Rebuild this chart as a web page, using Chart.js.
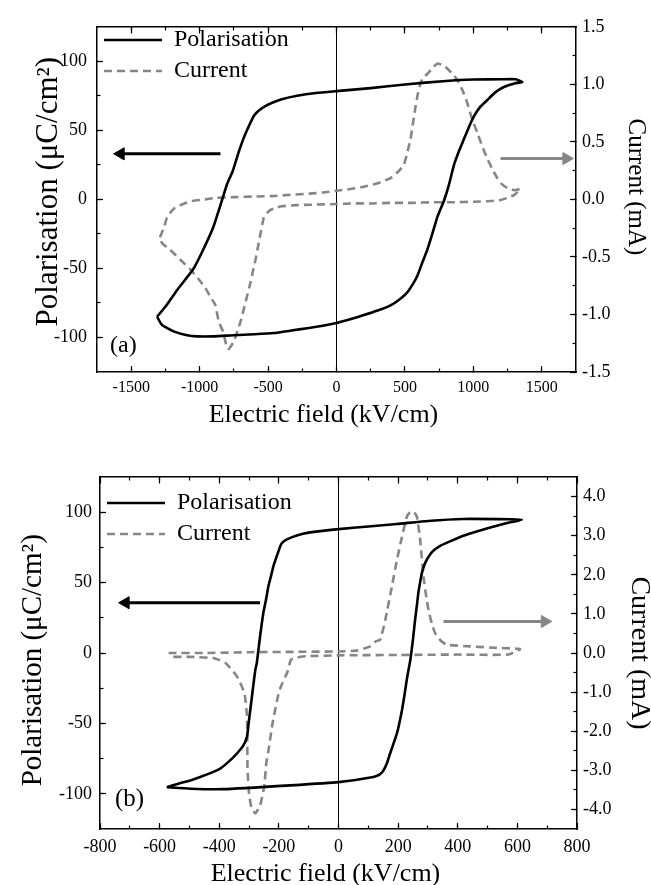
<!DOCTYPE html>
<html>
<head>
<meta charset="utf-8">
<script src="https://cdn.jsdelivr.net/npm/chart.js@4.4.1/dist/chart.umd.min.js"></script>
<style>
  html, body { margin: 0; padding: 0; background: #fff; overflow: hidden; }
  canvas { position: absolute; left: 0; }
</style>
</head>
<body>
<canvas id="chartA" width="651" height="440" style="top:0"></canvas>
<canvas id="chartB" width="651" height="460" style="top:440px"></canvas>
<script>
// ---- panel (a) : E in kV/cm, P in uC/cm2, I in mA ----
var polA_E = [-1311, -1275, -1190, -1092, -1019, -900, -751, -600, -458, -330,
              -214, -100, 0, 100, 200, 300, 395, 460, 517, 560,
              590, 630, 663, 700, 736, 785, 820, 858, 895, 931,
              970, 1004, 1050, 1102, 1160, 1223, 1300, 1358,
              1309, 1200, 1000, 800, 500, 250, 0, -150, -288, -400,
              -470, -520, -565, -600, -617, -650, -680, -722, -760, -800,
              -835, -900, -975, -1050, -1160, -1245, -1311];
var polA_P = [-85, -91, -95.6, -98.4, -99.2, -99.2, -98.4, -97.7, -96.8, -95,
              -93.3, -91.5, -89.5, -86.8, -83.8, -80.5, -76.7, -72.5, -67.3, -61,
              -55.5, -45, -36.6, -25, -13, -1, 10, 24.8, 35, 43.7,
              53, 60.2, 67, 72, 77.5, 81.4, 84, 85,
              87, 87, 86.8, 85.8, 83.2, 80.6, 78.4, 77, 75, 72.5,
              70, 67.5, 64.5, 61, 58, 51, 44, 32, 20, 11,
              0, -20, -36.6, -51, -65, -77, -85];
var curA_E = [-1290, -1260, -1239, -1210, -1179, -1120, -1057, -960, -874, -750,
              -600, -450, -336, -200, -100, 0, 100, 200, 300, 395,
              450, 492, 520, 541, 560, 578, 595, 614, 635, 663,
              700, 736, 770, 797, 840, 882, 920, 955, 990, 1029,
              1065, 1102, 1140, 1175, 1210, 1248, 1300, 1345, 1300, 1250,
              1200, 1126, 1000, 850, 700, 550, 400, 250, 100, 0,
              -150, -300, -400, -434, -480, -510, -531, -556, -575, -592,
              -610, -629, -665, -702, -751, -787, -805, -828, -860, -885,
              -920, -958, -1010, -1067, -1141, -1214, -1275, -1290];
var curA_I = [-0.33, -0.24, -0.16, -0.11, -0.07, -0.04, -0.014, 0.0, 0.014, 0.02,
              0.025, 0.03, 0.04, 0.05, 0.06, 0.075, 0.09, 0.11, 0.14, 0.185,
              0.24, 0.3, 0.42, 0.525, 0.67, 0.81, 0.92, 1.01, 1.06, 1.09,
              1.14, 1.18, 1.17, 1.15, 1.1, 1.04, 0.95, 0.84, 0.7, 0.58,
              0.46, 0.355, 0.26, 0.185, 0.13, 0.1, 0.08, 0.09, 0.04, 0.014,
              -0.005, -0.014, -0.02, -0.025, -0.025, -0.03, -0.03, -0.035, -0.035, -0.04,
              -0.045, -0.05, -0.06, -0.07, -0.09, -0.12, -0.156, -0.3, -0.42, -0.525,
              -0.62, -0.724, -0.894, -1.065, -1.235, -1.3, -1.27, -1.15, -1.065, -0.92,
              -0.85, -0.77, -0.69, -0.61, -0.525, -0.44, -0.38, -0.33];
var arrowA_polE = [-848, -1577], arrowA_polP = [33, 33];
var arrowA_curE = [1199, 1680], arrowA_curI = [0.355, 0.355];
var xTicksA = [-1500, -1000, -500, 0, 500, 1000, 1500];
var yTicksA = [-100, -50, 0, 50, 100];
var y1TicksA = [-1.5, -1.0, -0.5, 0, 0.5, 1.0, 1.5];

// ---- panel (b) ----
var polB_E = [-576, -497, -386, -162, 0, 117, 140, 151, 163, 173,
              185, 196, 205, 213, 222, 229, 241, 250, 257, 263,
              268, 274, 280, 288, 297, 315, 341, 380, 419, 475,
              531, 580, 615,
              580, 419, 300, 196, 100, 0, -100, -140, -173, -190,
              -196, -205, -218, -226, -235, -243, -252, -263, -274, -279,
              -288, -296, -302, -307, -320, -341, -370, -397, -430, -464,
              -497, -540, -576];
var polB_P = [-95.3, -96.4, -96.7, -94, -91.7, -88.1, -86, -83.4, -78, -71.4,
              -64, -57.1, -49, -40.5, -29, -19, -4.8, 10, 23.8, 34,
              42.9, 50.5, 57.1, 62.5, 66.6, 72, 76.1, 79.8, 83.3, 87,
              90.4, 93, 94.7,
              95, 95.2, 93.8, 91.6, 89.9, 88, 85.5, 83.5, 80.7, 78,
              75.5, 70, 61.9, 55, 47.6, 38, 28.6, 11.9, -7.1, -11.9,
              -27, -40.5, -51, -59.6, -66, -71.4, -77.5, -82.1, -85.3, -88.1,
              -90.5, -93, -95.3];
var curB_E = [-570, -450, -300, -150, 0, 60, 106, 125, 140, 157,
              179, 196, 213, 229, 240, 252, 263, 274, 285, 295,
              302, 313, 324, 345, 364, 442, 531, 609,
              570, 400, 200, 0, -100, -130, -159, -172, -187, -200,
              -221, -235, -242, -249, -263, -279, -292, -300, -305, -306,
              -307, -315, -330, -345, -380, -420, -500, -570];
var curB_I = [0.0, 0.0, 0.02, 0.03, 0.04, 0.06, 0.17, 0.3, 0.34, 0.85,
              1.7, 2.38, 2.97, 3.48, 3.6, 3.62, 3.48, 2.89, 1.95, 1.4,
              1.1, 0.75, 0.51, 0.3, 0.21, 0.17, 0.13, 0.1,
              -0.04, -0.04, -0.05, -0.06, -0.08, -0.1, -0.17, -0.5, -0.75, -1.0,
              -1.79, -2.5, -2.8, -3.4, -3.9, -4.1, -3.95, -3.6, -3.0, -2.2,
              -1.6, -1.05, -0.75, -0.55, -0.25, -0.13, -0.1, -0.1];
var arrowB_polE = [-263, -714], arrowB_polP = [35.7, 35.7];
var arrowB_curE = [352, 692], arrowB_curI = [0.806, 0.806];
var xTicksB = [-800, -600, -400, -200, 0, 200, 400, 600, 800];
var yTicksB = [-100, -50, 0, 50, 100];
var y1TicksB = [-4, -3, -2, -1, 0, 1, 2, 3, 4];

var GREY = '#868686';
Chart.defaults.font.family = "'Liberation Serif', 'Times New Roman', serif";
Chart.defaults.color = '#000';

function pts(xs, ys) {
  return xs.map(function (x, i) { return { x: x, y: ys[i] }; });
}
// minor ticks halfway between the labelled ones, kept inside [min, max]
function withMinor(list, min, max) {
  var step = list[1] - list[0], out = [list[0] - step / 2];
  list.forEach(function (v) { out.push(v, v + step / 2); });
  return out.filter(function (v) { return v > min + 1e-9 && v < max - 1e-9; });
}
function fixedTicks(list) {
  return function (axis) {
    axis.ticks = list.map(function (v) { return { value: v }; });
  };
}

var panelLabel = {
  id: 'panelLabel',
  afterDraw: function (chart, args, opts) {
    var ca = chart.chartArea, ctx = chart.ctx;
    ctx.save();
    ctx.font = opts.size + "px 'Liberation Serif'";
    ctx.fillStyle = '#000';
    ctx.textBaseline = 'middle';
    ctx.fillText(opts.text, ca.left + opts.dx, ca.bottom - opts.dy);
    ctx.restore();
  }
};

function tickOnly(axis, pos, min, max, list, len, border) {
  return {
    type: 'linear', axis: axis, position: pos, min: min, max: max,
    afterBuildTicks: fixedTicks(list),
    ticks: { display: false },
    grid: { drawOnChartArea: false, drawTicks: true, tickLength: len, tickColor: '#000', tickWidth: 1.2 },
    border: { display: !!border, color: '#000', width: 1.5 }
  };
}

function arrow(xs, ys, axisId, color, rot) {
  return {
    label: '', data: pts(xs, ys), yAxisID: axisId, borderColor: color, borderWidth: 3,
    tension: 0, pointRadius: [0, 7], pointStyle: 'triangle', pointRotation: rot,
    pointBackgroundColor: color, pointBorderColor: color, pointBorderWidth: 1
  };
}

function makePanel(id, p) {
  var g = p.geom;
  var xMinor = withMinor(p.xTicks, p.xMin, p.xMax);
  var yMinor = withMinor(p.yTicks, p.yMin, p.yMax);
  var y1Minor = withMinor(p.y1Ticks, p.y1Min, p.y1Max);
  return new Chart(document.getElementById(id), {
    type: 'line',
    data: {
      datasets: [
        { label: 'Polarisation', data: pts(p.polE, p.polP), yAxisID: 'y', borderColor: '#000',
          borderWidth: 2.6, pointRadius: 0, tension: 0.15 },
        { label: 'Current', data: pts(p.curE, p.curI), yAxisID: 'y1', borderColor: GREY,
          borderWidth: 2.6, borderDash: [8, 5], pointRadius: 0, tension: 0.15 },
        arrow(p.arrPolE, p.arrPolP, 'y', '#000', -90),
        arrow(p.arrCurE, p.arrCurI, 'y1', GREY, 90)
      ]
    },
    plugins: [panelLabel],
    options: {
      responsive: false,
      animation: false,
      layout: { padding: { top: g.top, left: 0, right: 0, bottom: 0 } },
      plugins: {
        tooltip: { enabled: false },
        panelLabel: p.label,
        legend: {
          position: 'chartArea', align: 'start',
          // the chartArea legend starts at the canvas top, an empty title pushes it down
          title: { display: true, text: '', padding: 0, font: { size: g.top + p.legendShift, lineHeight: 1 } },
          labels: {
            usePointStyle: true, pointStyleWidth: 58, padding: 7,
            font: { size: 24 }, color: '#000',
            generateLabels: function (chart) {
              return chart.data.datasets.slice(0, 2).map(function (ds, i) {
                return { text: ds.label, strokeStyle: ds.borderColor, fillStyle: ds.borderColor,
                  lineWidth: ds.borderWidth, lineDash: ds.borderDash || [], pointStyle: 'line',
                  datasetIndex: i, hidden: false, fontColor: '#000' };
              });
            }
          }
        }
      },
      scales: {
        x: {
          type: 'linear', position: 'bottom', min: p.xMin, max: p.xMax,
          afterBuildTicks: fixedTicks(p.xTicks),
          afterFit: function (s) { s.height = g.bottom; },
          ticks: { callback: function (v) { return String(v); }, font: { size: p.xTickSize },
                   padding: p.xTickPad, maxRotation: 0, autoSkip: false },
          grid: { drawOnChartArea: true, lineWidth: 1, tickLength: -6, tickColor: '#000', tickWidth: 1.2,
                  color: function (c) { return c.tick && c.tick.value === 0 ? '#000' : 'rgba(0,0,0,0)'; } },
          border: { display: true, color: '#000', width: 1.5 },
          title: { display: true, text: 'Electric field (kV/cm)\u2002\u2002', font: { size: 26 },
                   padding: { top: 0, bottom: p.xTitlePad } }
        },
        xTop: tickOnly('x', { y: p.yMax }, p.xMin, p.xMax, p.xTicks, 6, true),
        xTopMinor: tickOnly('x', { y: p.yMax }, p.xMin, p.xMax, xMinor, 3.5),
        xBotMinor: tickOnly('x', { y: p.yMin }, p.xMin, p.xMax, xMinor, -3.5),
        y: {
          type: 'linear', position: 'left', min: p.yMin, max: p.yMax,
          afterBuildTicks: fixedTicks(p.yTicks),
          afterFit: function (s) { s.width = g.left; },
          ticks: { callback: function (v) { return String(v); }, font: { size: 18 }, padding: p.yTickPad },
          grid: { drawOnChartArea: false, tickLength: -6, tickColor: '#000', tickWidth: 1.2 },
          border: { display: true, color: '#000', width: 1.5 },
          title: { display: true, text: p.yTitle, font: { size: p.yTitleSize },
                   padding: { top: p.yTitlePad, bottom: 0 } }
        },
        yMinor: tickOnly('y', { x: p.xMin }, p.yMin, p.yMax, yMinor, -3.5),
        y1: {
          type: 'linear', position: 'right', min: p.y1Min, max: p.y1Max,
          afterBuildTicks: fixedTicks(p.y1Ticks),
          afterFit: function (s) { s.width = g.right; },
          ticks: { callback: function (v) { return v.toFixed(1); }, font: { size: 18 }, padding: p.y1TickPad },
          grid: { drawOnChartArea: false, tickLength: -6, tickColor: '#000', tickWidth: 1.2 },
          border: { display: true, color: '#000', width: 1.5 },
          title: { display: true, text: p.y1Title, font: { size: p.y1TitleSize, lineHeight: p.y1TitleLH },
                   padding: { top: 0, bottom: 0 } }
        },
        y1Minor: tickOnly('y', { x: p.xMax }, p.y1Min, p.y1Max, y1Minor, 3.5)
      }
    }
  });
}

makePanel('chartA', {
  polE: polA_E, polP: polA_P, curE: curA_E, curI: curA_I,
  arrPolE: arrowA_polE, arrPolP: arrowA_polP, arrCurE: arrowA_curE, arrCurI: arrowA_curI,
  xMin: -1750, xMax: 1750, yMin: -125, yMax: 125, y1Min: -1.5, y1Max: 1.5,
  xTicks: xTicksA, yTicks: yTicksA, y1Ticks: y1TicksA,
  geom: { left: 97, right: 75, top: 19, bottom: 68 },
  xTickSize: 16, xTickPad: 12, yTickPad: 16, y1TickPad: 12,
  yTitle: '\u2002Polarisation (\u03bcC/cm\u00b2)', yTitleSize: 31, yTitlePad: 30,
  y1Title: 'Current (mA)\u2002\u2002', y1TitleSize: 25, y1TitleLH: 1.2, xTitlePad: 9.5,
  legendShift: 2,
  label: { text: '(a)', size: 24, dx: 13, dy: 26 }
});

makePanel('chartB', {
  polE: polB_E, polP: polB_P, curE: curB_E, curI: curB_I,
  arrPolE: arrowB_polE, arrPolP: arrowB_polP, arrCurE: arrowB_curE, arrCurI: arrowB_curI,
  xMin: -800, xMax: 800, yMin: -125, yMax: 125, y1Min: -4.5, y1Max: 4.5,
  xTicks: xTicksB, yTicks: yTicksB, y1Ticks: y1TicksB,
  geom: { left: 100, right: 74, top: 37, bottom: 71 },
  xTickSize: 18, xTickPad: 13, yTickPad: 14, y1TickPad: 12,
  yTitle: 'Polarisation (\u03bcC/cm\u00b2)\u2002', yTitleSize: 29, yTitlePad: 16,
  y1Title: 'Current (mA)', y1TitleSize: 28, y1TitleLH: 0.85, xTitlePad: 10.5,
  legendShift: 7,
  label: { text: '(b)', size: 25, dx: 15, dy: 30 }
});
</script>
</body>
</html>
